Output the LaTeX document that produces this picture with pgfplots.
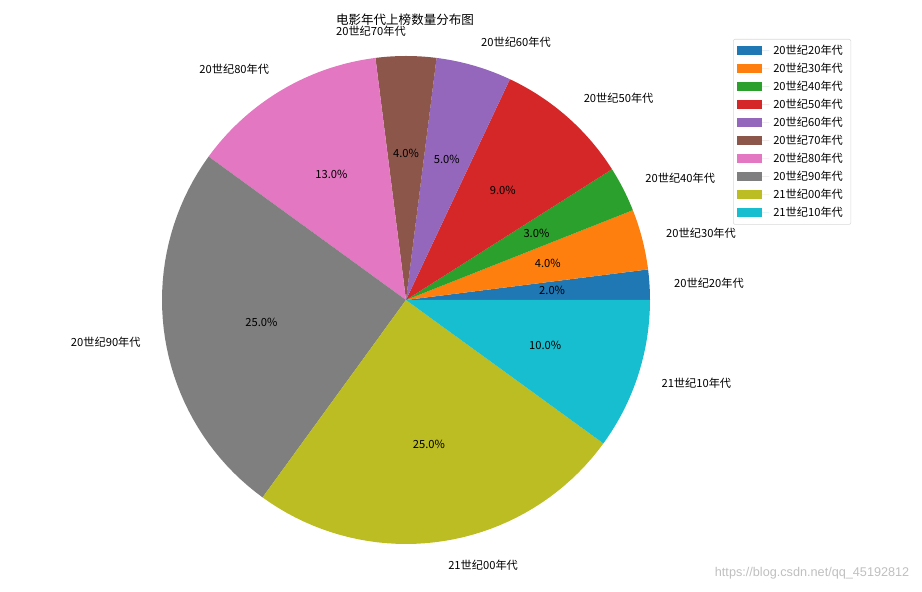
\documentclass[border=0pt]{standalone}
\usepackage{fontspec}
\setmainfont{Noto Sans CJK SC}
\newfontfamily\wmfont{Liberation Sans}
\usepackage{pgfplots}
\usepackage{pgfplotstable}
\pgfplotsset{compat=1.18}
\definecolor{c0}{HTML}{1F77B4}
\definecolor{c1}{HTML}{FF7F0E}
\definecolor{c2}{HTML}{2CA02C}
\definecolor{c3}{HTML}{D62728}
\definecolor{c4}{HTML}{9467BD}
\definecolor{c5}{HTML}{8C564B}
\definecolor{c6}{HTML}{E377C2}
\definecolor{c7}{HTML}{7F7F7F}
\definecolor{c8}{HTML}{BCBD22}
\definecolor{c9}{HTML}{17BECF}

% share of each decade (percent)
\pgfplotstableread{
idx val
0 2
1 4
2 3
3 9
4 5
5 4
6 13
7 25
8 25
9 10
}\piedata

\newcommand\nm[1]{\ifcase#1 20世纪20年代\or 20世纪30年代\or 20世纪40年代\or 20世纪50年代\or 20世纪60年代\or 20世纪70年代\or 20世纪80年代\or 20世纪90年代\or 21世纪00年代\or 21世纪10年代\fi}

\def\cx{406}
\def\cy{292}
\def\rr{244}

\begin{document}
\begin{tikzpicture}
\begin{axis}[
    scale only axis,
    width=691.5pt, height=444pt,
    xmin=0, xmax=922, ymin=0, ymax=592,
    hide axis, clip=false,
    legend style={at={(axis cs:733,553)}, anchor=north west,
        draw=black!15, rounded corners=1.5pt,
        font=\fontsize{8.4}{10}\selectfont,
        nodes={inner ysep=2.45pt, inner xsep=3pt}},
    legend cell align=left,
    legend image code/.code={\fill[#1, sharp corners] (0pt,-3.4pt) rectangle (18.75pt,3.4pt);
        \path (0pt,0pt) -- (24pt,0pt);},
]
\path (axis cs:0,0) rectangle (axis cs:922,592);
\gdef\cum{0}
\pgfplotsforeachungrouped \i in {0,...,9}{
    \pgfplotstablegetelem{\i}{val}\of\piedata
    \let\v\pgfplotsretval
    \pgfmathsetmacro\a{\cum*3.6}
    \pgfmathsetmacro\b{(\cum+\v)*3.6}
    \gdef\pts{(\cx,\cy)}
    \foreach \k in {0,...,40}{
        \pgfmathsetmacro\t{\a+(\b-\a)*\k/40}
        \pgfmathsetmacro\px{\cx+\rr*cos(\t)}
        \pgfmathsetmacro\py{\cy+\rr*sin(\t)}
        \xdef\pts{\pts (\px,\py)}
    }
    \edef\cmd{\noexpand\addplot[fill=c\i, draw=none, mark=none] coordinates {\pts} -- cycle;
        \noexpand\addlegendentry{\nm\i}}
    \cmd
    \pgfmathsetmacro\m{(\a+\b)/2}
    \pgfmathsetmacro\lx{\cx+1.1*\rr*cos(\m)}
    \pgfmathsetmacro\ly{\cy+1.1*\rr*sin(\m)}
    \pgfmathsetmacro\qx{\cx+0.6*\rr*cos(\m)}
    \pgfmathsetmacro\qy{\cy+0.6*\rr*sin(\m)}
    \pgfmathparse{cos(\m)>0 ? "west" : "east"}
    \let\anc\pgfmathresult
    \edef\cmd{\noexpand\node[anchor=\anc, inner sep=0pt, font=\noexpand\fontsize{8.4}{10}\noexpand\selectfont] at (axis cs:\lx,\ly) {\nm\i};
        \noexpand\node[inner sep=0pt, font=\noexpand\fontsize{8.4}{10}\noexpand\selectfont] at (axis cs:\qx,\qy) {\v.0\noexpand\%};}
    \cmd
    \pgfmathsetmacro\c{\cum+\v}
    \xdef\cum{\c}
}
\node[font=\fontsize{9.4}{11}\selectfont] at (axis cs:405,572) {电影年代上榜数量分布图};
\node[anchor=east, text=black!25, font=\wmfont\fontsize{9.5}{11}\selectfont] at (axis cs:914,19) {https://blog.csdn.net/qq\_45192812};
\end{axis}
\end{tikzpicture}
\end{document}
